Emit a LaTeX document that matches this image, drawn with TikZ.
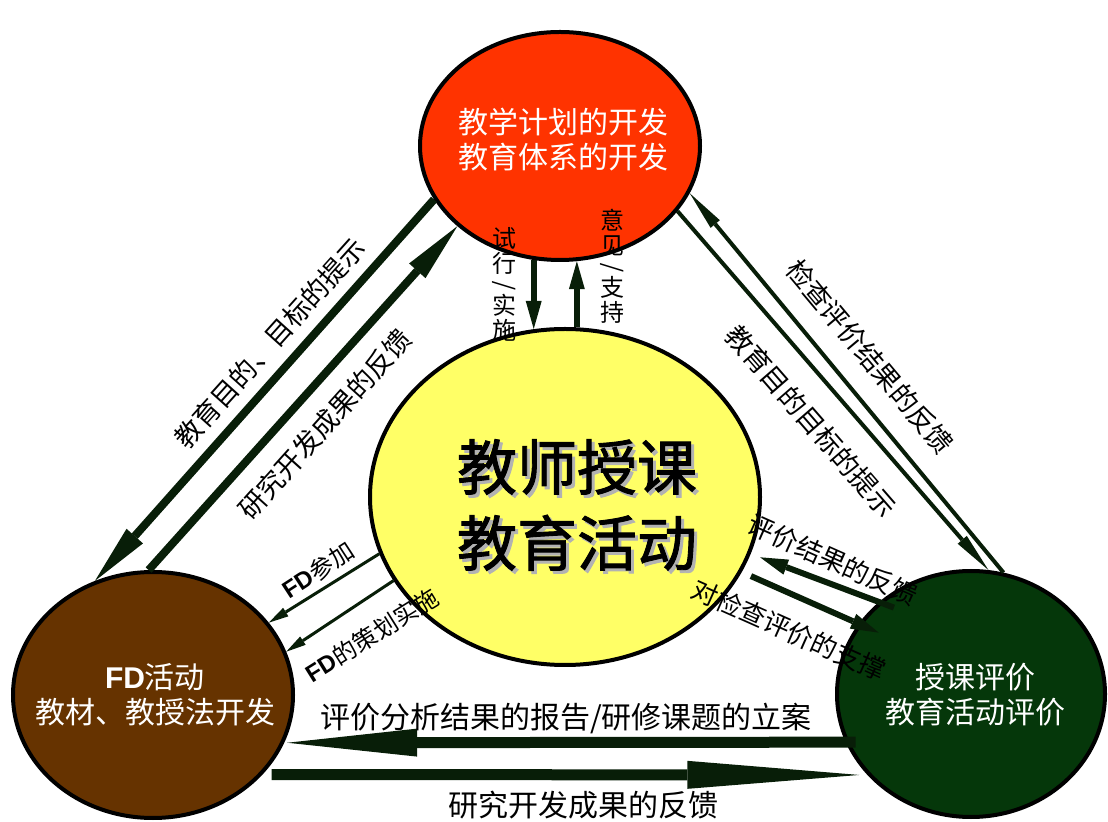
\documentclass[tikz,border=0pt]{standalone}
\usepackage{fontspec}
\setmainfont{Noto Sans CJK SC}
\newfontfamily\arialfont{Liberation Sans}
\newfontfamily\heavyfont[FakeBold=1.5]{Noto Sans CJK SC}
\usetikzlibrary{shapes.geometric, arrows.meta}

\definecolor{planred}{RGB}{255,51,0}
\definecolor{teachyellow}{RGB}{255,255,102}
\definecolor{fdbrown}{RGB}{102,51,0}
\definecolor{evalgreen}{RGB}{5,55,10}
\definecolor{arrowgreen}{RGB}{8,30,8}

\newcommand{\fdmark}{{\arialfont\bfseries FD}}
\newcommand{\vslash}{\rotatebox[origin=c]{90}{/}}

\tikzset{
  bubble/.style={ellipse, draw=black, line width=2pt, inner sep=0pt},
  intext/.style={align=center, inner sep=0pt, font=\fontsize{15pt}{17.5pt}\selectfont},
  lab/.style={inner sep=0pt, font=\fontsize{13.5pt}{15pt}\selectfont},
  vlab/.style={align=center, inner sep=0pt, font=\fontsize{12pt}{12.5pt}\selectfont},
  hugearrow/.style={arrowgreen, line width=5.5pt, -{Triangle[length=#1, width=14pt, line width=0pt]}},
  bigarrow/.style={arrowgreen, line width=4pt, -{Triangle[length=30pt, width=11pt, line width=0pt]}},
  midarrow/.style={arrowgreen, line width=3pt, -{Triangle[length=14pt, width=8pt, line width=0pt]}},
  thinarrow/.style={arrowgreen, line width=2pt, -{Triangle[length=20pt, width=6pt, line width=0pt]}},
  fdarrow/.style={arrowgreen, line width=1.5pt, -{Triangle[length=10pt, width=5pt, line width=0pt]}},
}

\begin{document}
\begin{tikzpicture}[x=0.5pt, y=-0.5pt]

    \useasboundingbox (0,0) rectangle (1108,822);

    % Ellipses
    \node[bubble, fill=planred, minimum width=140pt, minimum height=114pt] (plan) at (560,146) {};
    \node[bubble, fill=teachyellow, minimum width=195pt, minimum height=168pt] (teach) at (565,497) {};
    \node[bubble, fill=fdbrown, minimum width=140pt, minimum height=123pt] (fd) at (153,695) {};
    \node[bubble, fill=evalgreen, minimum width=134pt, minimum height=123pt] (eval) at (971,694) {};

    % Texts in the ellipses
    \node[intext, white] (plantext) at (563,140) {教学计划的开发\\教育体系的开发};
    \node[align=center, inner sep=0pt, gray!60, font=\heavyfont\fontsize{30pt}{38pt}\selectfont] (teachshadow) at (580,508) {教师授课\\教育活动};
    \node[align=center, inner sep=0pt, font=\heavyfont\fontsize{30pt}{38pt}\selectfont] (teachtext) at (577,505) {教师授课\\教育活动};
    \node[intext, white] (fdtext) at (155,695) {\fdmark 活动\\教材、教授法开发};
    \node[intext, white] (evaltext) at (975,695) {授课评价\\教育活动评价};

    % Arrows plan - fd
    \draw[bigarrow] (plan.203) -- (fd.117);
    \draw[bigarrow] (fd.92) -- (plan.218);

    % Arrows plan - teach
    \draw[midarrow] (plan.257) -- (plan.257 |- teach.100);
    \draw[midarrow] (teach.86) -- (teach.86 |- plan.278);

    % Arrows plan - eval
    \draw[thinarrow] (eval.75) -- (plan.340);
    \draw[thinarrow] (plan.331) -- (eval.82);

    % Arrows teach - eval
    \draw[midarrow, shorten <=-8pt, shorten >=5pt] (eval.135) -- (teach.-17);
    \draw[midarrow, shorten <=5pt, shorten >=-11pt] (teach.-23) -- (eval.148);

    % Arrows teach - fd
    \draw[fdarrow] (teach.197) -- (fd.32);
    \draw[fdarrow] (teach.206) -- (fd.18);

    % Arrows fd - eval
    \draw[hugearrow=65pt, shorten <=-5pt, shorten >=1.5pt] (eval.201) -- (fd.340);
    \draw[hugearrow=86pt, shorten <=4.5pt, shorten >=4pt] (fd.324) -- (eval.218);

    % Labels
    \node[lab, rotate=48] (aimleft) at (270,343) {教育目的、目标的提示};
    \node[lab, rotate=48] (resleft) at (325,424) {研究开发成果的反馈};
    \node[vlab] (trylab) at (504,284) {试\\行\\[-2pt]\vslash\\[-2pt]实\\施};
    \node[vlab] (supportlab) at (612,266) {意\\见\\[-2pt]\vslash\\[-2pt]支\\持};
    \node[lab, rotate=-50] (checkright) at (870,357) {检查评价结果的反馈};
    \node[lab, rotate=-49] (aimright) at (811,421) {教育目的目标的提示};
    \node[lab, rotate=-24, font=\fontsize{13pt}{15pt}\selectfont] (evalfeed) at (833,560) {评价结果的反馈};
    \node[lab, rotate=-24, font=\fontsize{13pt}{15pt}\selectfont] (checksupport) at (789,630) {对检查评价的支撑};
    \node[lab, rotate=33, font=\fontsize{12pt}{14pt}\selectfont] (fdjoin) at (318,570) {\fdmark 参加};
    \node[lab, rotate=32, font=\fontsize{12pt}{14pt}\selectfont] (fdplan) at (372,635) {\fdmark 的策划实施};
    \node[intext] (reportlab) at (566,718) {评价分析结果的报告/研修课题的立案};
    \node[intext] (resbottom) at (583,805) {研究开发成果的反馈};

\end{tikzpicture}
\end{document}
